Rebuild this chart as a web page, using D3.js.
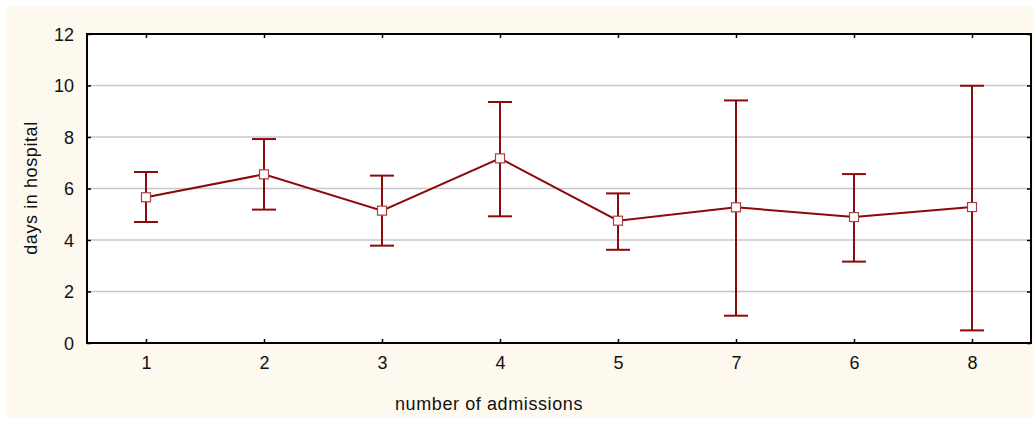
<!DOCTYPE html>
<html><head><meta charset="utf-8">
<script src="https://cdn.jsdelivr.net/npm/d3@7"></script>
<style>
html,body{margin:0;padding:0;background:#fff;}
svg{display:block;font-family:"Liberation Sans",Arial,sans-serif;}
</style></head>
<body>
<svg id="chart" width="1033" height="421"></svg>
<script>
const categories = ["1","2","3","4","5","7","6","8"];
const means = [5.66, 6.55, 5.14, 7.17, 4.75, 5.27, 4.89, 5.28];
const upper = [6.64, 7.92, 6.50, 9.36, 5.81, 9.42, 6.56, 9.99];
const lower = [4.70, 5.18, 3.78, 4.92, 3.62, 1.06, 3.16, 0.49];
const yTicks = [0, 2, 4, 6, 8, 10, 12];
const xTitle = "number of admissions";
const yTitle = "days in hospital";

const svg = d3.select("#chart");
const L = 87, R = 1031, T = 34, B = 343;
const lineColor = "#8b0a0a";

svg.append("rect").attr("x", 6).attr("y", 7).attr("width", 1027).attr("height", 411).attr("fill", "#fef9ee");
svg.append("rect").attr("x", L).attr("y", T).attr("width", R - L).attr("height", B - T).attr("fill", "#fff");

const x = d3.scalePoint().domain(categories).range([L, R]).padding(0.5);
const y = d3.scaleLinear().domain([0, 12]).range([B, T]);

// gridlines
svg.append("g").selectAll("line").data(yTicks.filter(t => t > 0 && t < 12)).join("line")
  .attr("x1", L).attr("x2", R).attr("y1", d => y(d)).attr("y2", d => y(d))
  .attr("stroke", "#c8c8c8").attr("stroke-width", 1.5);

// axes (ticks inside)
const fs = "18px";
const yAxis = svg.append("g").attr("transform", `translate(${L},0)`)
  .call(d3.axisLeft(y).tickValues(yTicks).tickSize(-4).tickPadding(13));
const xAxis = svg.append("g").attr("transform", `translate(0,${B})`)
  .call(d3.axisBottom(x).tickSize(-4).tickPadding(13));
svg.append("g").attr("transform", `translate(${R},0)`)
  .call(d3.axisRight(y).tickValues(yTicks).tickSize(-4).tickFormat(""));
svg.append("g").attr("transform", `translate(0,${T})`)
  .call(d3.axisTop(x).tickSize(-4).tickFormat(""));
svg.selectAll(".domain").remove();
svg.selectAll(".tick line").attr("stroke", "#000").attr("stroke-width", 1.5);
[yAxis, xAxis].forEach(g => g.selectAll("text").attr("font-size", fs).attr("fill", "#111")
  .attr("font-family", '"Liberation Sans",Arial,sans-serif'));
yAxis.selectAll("text").attr("dy", "0.36em");
xAxis.selectAll("text").attr("dy", "0.72em");

svg.append("rect").attr("x", L).attr("y", T).attr("width", R - L).attr("height", B - T)
  .attr("fill", "none").attr("stroke", "#000").attr("stroke-width", 2);

// error bars
const eb = svg.append("g").attr("stroke", lineColor).attr("stroke-width", 2);
categories.forEach((c, i) => {
  const cx = x(c);
  eb.append("line").attr("x1", cx).attr("x2", cx).attr("y1", y(lower[i])).attr("y2", y(upper[i]));
  eb.append("line").attr("x1", cx - 12).attr("x2", cx + 12).attr("y1", y(lower[i])).attr("y2", y(lower[i]));
  eb.append("line").attr("x1", cx - 12).attr("x2", cx + 12).attr("y1", y(upper[i])).attr("y2", y(upper[i]));
});

// mean line
svg.append("path").datum(means)
  .attr("d", d3.line().x((d, i) => x(categories[i])).y(d => y(d)))
  .attr("fill", "none").attr("stroke", lineColor).attr("stroke-width", 2);

// markers
svg.append("g").selectAll("rect").data(means).join("rect")
  .attr("x", (d, i) => x(categories[i]) - 4.5).attr("y", d => y(d) - 4.5)
  .attr("width", 9).attr("height", 9)
  .attr("fill", "#fff").attr("stroke", "#a84040").attr("stroke-width", 1.2);

// titles
svg.append("text").attr("x", 489).attr("y", 410).attr("text-anchor", "middle")
  .attr("font-size", fs).attr("fill", "#111").attr("letter-spacing", "0.6px").text(xTitle);
svg.append("text").attr("transform", `translate(37,188) rotate(-90)`).attr("text-anchor", "middle")
  .attr("font-size", fs).attr("fill", "#111").attr("letter-spacing", "0.6px").text(yTitle);
</script>
</body></html>
